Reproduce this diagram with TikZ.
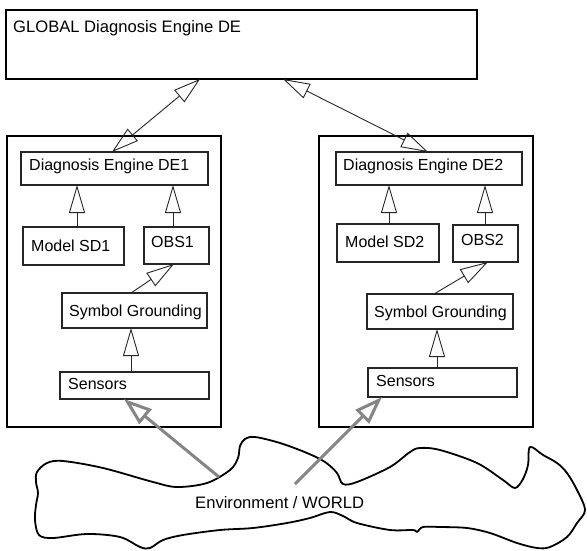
\documentclass[tikz,border=0pt]{standalone}
\usepackage{fontspec}
\setmainfont{Liberation Sans}
\usetikzlibrary{arrows.meta}
\begin{document}
\begin{tikzpicture}[x=1pt,y=-1pt,
  box/.style={draw=black!85, line width=1.1pt, rectangle, inner sep=0pt, outer sep=0pt, anchor=north west},
  frame/.style={box, draw=black, line width=2.4pt},
  lbl/.style={anchor=base west, inner sep=0pt, font=\fontsize{16}{19}\selectfont, text=black},
  biglbl/.style={lbl, font=\fontsize{16.6}{20}\selectfont},
  arr/.style={draw=black!85, line width=0.9pt, -{Triangle[open, length=28pt, width=16pt]}},
  darr/.style={draw=black!85, line width=0.9pt, {Triangle[open, length=27pt, width=16pt]}-{Triangle[open, length=27pt, width=16pt]}},
  senses/.style={draw=black!48, line width=3pt, -{Triangle[open, length=28pt, width=19pt]}},
  world/.style={draw=black, line width=1.8pt, line join=round}
]
\useasboundingbox (0,0) rectangle (587,551);

% global engine
\node[box, line width=2.6pt, draw=black, minimum width=471pt, minimum height=69pt] (glob) at (6,10) {};
\node[biglbl] at (13,33) {GLOBAL Diagnosis Engine DE};

% left subsystem
\node[frame, minimum width=214pt, minimum height=291pt] (fr1) at (7,136) {};
\node[box, minimum width=187pt, minimum height=33pt] (de1) at (21,152) {};
\node[box, minimum width=101pt, minimum height=38pt] (model1) at (23,227) {};
\node[box, minimum width=65pt, minimum height=37pt] (obs1) at (144,227) {};
\node[box, minimum width=145pt, minimum height=35pt] (sg1) at (62,293) {};
\node[box, minimum width=149pt, minimum height=27pt] (sen1) at (60,372) {};
\node[lbl] at (29,170) {Diagnosis Engine DE1};
\node[lbl] at (31,251) {Model SD1};
\node[lbl] at (151,247) {OBS1};
\node[lbl] at (69,316) {Symbol Grounding};
\node[lbl] at (68,389) {Sensors};

% right subsystem
\node[frame, minimum width=214pt, minimum height=291pt] (fr2) at (319,136) {};
\node[box, minimum width=186pt, minimum height=33pt] (de2) at (336,152) {};
\node[box, minimum width=102pt, minimum height=38pt] (model2) at (337,224) {};
\node[box, minimum width=65pt, minimum height=37pt] (obs2) at (453,225) {};
\node[box, minimum width=146pt, minimum height=35pt] (sg2) at (367,294) {};
\node[box, minimum width=149pt, minimum height=29pt] (sen2) at (368,368) {};
\node[lbl] at (343,170) {Diagnosis Engine DE2};
\node[lbl] at (345,247) {Model SD2};
\node[lbl] at (461,245) {OBS2};
\node[lbl] at (374,317) {Symbol Grounding};
\node[lbl] at (376,386) {Sensors};

% links inside the left subsystem
\draw[arr] ([xshift=3.5pt]model1.north) -- ([xshift=3.5pt]model1.north |- de1.south);
\draw[arr] ([xshift=-3.5pt]obs1.north) -- ([xshift=-3.5pt]obs1.north |- de1.south);
\draw[arr] ([xshift=-3.5pt]sg1.north) -- ([xshift=-2.5pt]obs1.south);
\draw[arr] ([xshift=-3.5pt]sen1.north) -- ([xshift=-3.5pt]sen1.north |- sg1.south);

% links inside the right subsystem
\draw[arr] ([xshift=1pt]model2.north) -- ([xshift=1pt]model2.north |- de2.south);
\draw[arr] ([xshift=-0.5pt]obs2.north) -- ([xshift=-0.5pt]obs2.north |- de2.south);
\draw[arr] ([xshift=-6pt]sg2.north) -- ([xshift=2.5pt]obs2.south);
\draw[arr] ([xshift=-5.5pt]sen2.north) -- ([xshift=-5.5pt]sen2.north |- sg2.south);

% links to the global engine
\draw[darr] ([xshift=-2.5pt]de1.north) -- ([xshift=-41.5pt]glob.south);
\draw[darr] ([xshift=-1pt]de2.north) -- ([xshift=41.5pt]glob.south);

% environment
\draw[world] plot[smooth cycle, tension=0.55] coordinates {
  (37,472) (47,463) (63,461) (103,468) (153,482) (177,487) (207,483)
  (230,470) (238,458) (240,446) (245,439) (255,437) (280,443) (307,453)
  (325,462) (337,473) (343,484) (357,482) (390,467) (410,452) (420,448)
  (440,450) (477,463) (503,480) (515,488) (523,479) (528,465) (530,447)
  (543,455) (557,463) (567,473) (577,490) (585,510) (577,523) (567,537)
  (550,547) (537,548) (517,543) (490,533) (467,528) (440,527) (423,527)
  (417,532) (413,530) (390,530) (357,523) (343,516) (330,512) (310,518)
  (287,523) (253,528) (220,530) (183,535) (163,540) (150,548) (140,547)
  (120,537) (87,534) (53,538) (39,535) (35,520) (36,505) (38,493) (36,482)};
\node[biglbl] (env) at (195,508) {Environment / WORLD};

% sensing from the environment
\coordinate (w1) at (219,477);
\coordinate (w2) at (295,484);
\draw[senses] (w1) -- ([xshift=-10.5pt]sen1.south);
\draw[senses] (w2) -- ([xshift=-60.5pt]sen2.south);
\end{tikzpicture}
\end{document}
